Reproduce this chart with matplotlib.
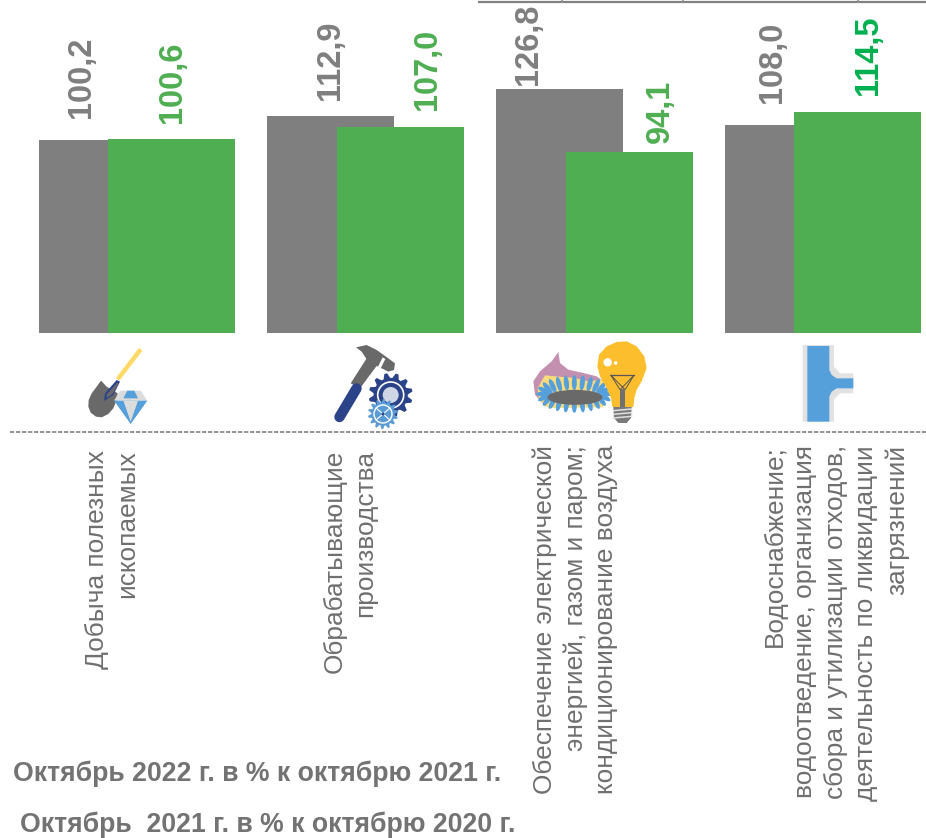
import numpy as np
import matplotlib
matplotlib.use('Agg')
from matplotlib import pyplot as plt
from matplotlib.patches import Polygon, Circle, Ellipse, Rectangle

plt.rcParams['font.family'] = ['Liberation Sans', 'DejaVu Sans']

W, H = 926, 838
BASE_Y = 333  # pixel row of the bars baseline

categories = ['Добыча полезных\nископаемых',
              'Обрабатывающие\nпроизводства',
              'Обеспечение электрической\nэнергией, газом и паром;\nкондиционирование воздуха',
              'Водоснабжение;\nводоотведение, организация\nсбора и утилизации отходов,\nдеятельность по ликвидации\nзагрязнений']
values_2021 = [100.2, 112.9, 126.8, 108.0]
values_2022 = [100.6, 107.0, 94.1, 114.5]
legend_2022 = 'Октябрь 2022 г. в % к октябрю 2021 г.'
legend_2021 = 'Октябрь  2021 г. в % к октябрю 2020 г.'

GRAY = '#7f7f7f'
GREEN = '#4fae52'
NAVY = '#2b4389'
BLUE = '#559fdb'
YELLOW = '#fdbe2d'

fig = plt.figure(figsize=(W / 100, H / 100), dpi=100)

# bars: one x unit is 228.7 px, first group centre at 137 px
UNIT = 228.7
ax = fig.add_axes([22.65 / W, 1 - BASE_Y / H, (W - 22.65) / W, BASE_Y / H])
ax.set_xlim(-0.5, -0.5 + (W - 22.65) / UNIT)
ax.set_ylim(0, BASE_Y / 1.926)
ax.axis('off')
x = np.arange(len(categories))
width = 127 / UNIT
shift = 69.5 / 2 / UNIT
bars_gray = ax.bar(x - shift, values_2021, width, color=GRAY, edgecolor='none')
bars_green = ax.bar(x + shift, values_2022, width, color=GREEN, edgecolor='none')


def fmt(v):
    return '{0:.1f}'.format(v).replace('.', ',')


# label offsets from the bar top centre, pixels
gray_off = [(-21, 22), (0, 16), (-31, 4), (-16, 22)]
green_off = [(1, 16), (27, 17), (31, 9), (11, 17)]
green_cols = [GREEN, GREEN, GREEN, '#00b050']
for i in range(len(categories)):
    ax.annotate(fmt(values_2021[i]), (x[i] - shift, values_2021[i]), xytext=gray_off[i],
                textcoords='offset pixels', rotation=90, ha='center', va='bottom',
                fontsize=23.5, fontweight='bold', color=GRAY, annotation_clip=False)
    ax.annotate(fmt(values_2022[i]), (x[i] + shift, values_2022[i]), xytext=green_off[i],
                textcoords='offset pixels', rotation=90, ha='center', va='bottom',
                fontsize=23.5, fontweight='bold', color=green_cols[i], annotation_clip=False)

# everything else is placed in pixels of the picture
pa = fig.add_axes([0, 0, 1, 1])
pa.set_xlim(0, W)
pa.set_ylim(H, 0)
pa.axis('off')
pa.patch.set_alpha(0)

pa.plot([478, 926], [2.5, 2.5], color='#808080', lw=1.6, solid_capstyle='butt')
for tx in [562, 683, 858]:
    pa.plot([tx, tx], [0, 2], color='#909090', lw=1.2)
pa.plot([10, 926], [432, 432], color='#808080', lw=1.2, dashes=(2.6, 1.0))

label_x = [112, 350, 575, 836]
label_top = [450, 450, 445, 445]
for lx, ly, name in zip(label_x, label_top, categories):
    pa.text(lx, ly, name, rotation=90, ha='center', va='top', multialignment='right',
            fontsize=18.9, color='#6f6f6f', linespacing=1.33)

pa.text(13, 773.5, legend_2022, ha='left', va='center', fontsize=19.2, fontweight='bold', color='#737373')
pa.text(20, 824.5, legend_2021, ha='left', va='center', fontsize=19.2, fontweight='bold', color='#737373')


def poly(ox, oy, pts, color, z=3):
    pts = [(ox + p[0] / 3, oy + p[1] / 3) for p in pts]
    pa.add_patch(Polygon(pts, closed=True, facecolor=color, edgecolor='none', zorder=z))


def gear(cx, cy, r, n, color, z):
    ang = np.linspace(0, 2 * np.pi, n * 4, endpoint=False) + 0.1
    rad = np.tile([r * 0.78, r, r, r * 0.78], n)
    pts = np.column_stack([cx + rad * np.cos(ang), cy + rad * np.sin(ang)])
    pa.add_patch(Polygon(pts, closed=True, facecolor=color, edgecolor='none', zorder=z))


# shovel and diamond
ox, oy = 70, 340
pa.plot([140.7, 117.7], [349.3, 379.3], color='#ffd966', lw=3.2, zorder=3, solid_capstyle='butt')
poly(ox, oy, [(93, 122), (110, 140), (128, 150), (143, 160), (140, 180), (130, 205), (115, 222), (95, 232), (78, 230),
              (62, 218), (55, 200), (56, 180), (65, 160), (80, 140)], '#696969')
poly(ox, oy, [(140, 120), (150, 125), (130, 165), (102, 183), (105, 160)], NAVY, 4)
poly(ox, oy, [(142, 128), (146, 130), (127, 162), (110, 174), (111, 162)], '#696969', 4)
poly(ox, oy, [(150, 152), (212, 152), (232, 182), (132, 182)], '#dcdcdc', 4)
poly(ox, oy, [(132, 182), (232, 182), (182, 252)], BLUE, 4)
poly(ox, oy, [(160, 182), (204, 182), (182, 245)], '#dcdcdc', 5)
poly(ox, oy, [(172, 152), (193, 152), (204, 175), (160, 175)], BLUE, 5)

# hammer and gears
ox, oy = 320, 340
poly(ox, oy, [(140, 55), (172, 75), (120, 145), (92, 130)], '#696969')
poly(ox, oy, [(108, 22), (140, 15), (170, 30), (205, 55), (225, 70), (222, 90), (205, 95), (185, 85), (170, 78), (140, 58), (125, 35)], '#696969')
poly(ox, oy, [(188, 52), (196, 57), (182, 85), (174, 80)], 'white', 4)
pa.plot([356.5, 339.5], [388.5, 417], color=NAVY, lw=7.5, solid_capstyle='round', zorder=4)
gear(390.7, 395, 22, 12, NAVY, 4)
pa.add_patch(Circle((390.7, 395), 13, facecolor='none', edgecolor='white', lw=1.2, zorder=5))
pa.add_patch(Circle((390.7, 395), 8, facecolor='#cfd6e6', edgecolor='none', zorder=5))
gear(383, 414, 15, 14, '#5b9bd5', 6)
pa.add_patch(Circle((383, 414), 9, facecolor='none', edgecolor='white', lw=1.0, zorder=7))
pa.plot([376, 390], [408, 420], color='white', lw=0.8, zorder=7)
pa.plot([376, 390], [420, 408], color='white', lw=0.8, zorder=7)
pa.add_patch(Circle((383, 414), 1.5, facecolor=NAVY, edgecolor='none', zorder=8))

# gas burner and bulb
ox, oy = 525, 338
poly(ox, oy, [(100, 42), (105, 75), (130, 95), (175, 105), (215, 115), (235, 130), (230, 190), (60, 205), (30, 170), (25, 130), (45, 100), (80, 70)], '#c490b0')
poly(ox, oy, [(38, 150), (60, 112), (100, 116), (150, 120), (190, 130), (235, 125), (235, 208), (70, 210), (42, 185)], '#fbdc7c', 4)
for t in np.linspace(0, 2 * np.pi, 24, endpoint=False):
    fx, fy = ox + (148 + 92 * np.cos(t)) / 3, oy + (168 + 34 * np.sin(t)) / 3
    pa.add_patch(Ellipse((fx, fy), 5, 15, angle=np.degrees(np.arctan2(np.sin(t) * 2.2, np.cos(t))) - 90,
                         facecolor=BLUE, edgecolor='none', zorder=5))
pa.add_patch(Ellipse((ox + 150 / 3, oy + 178 / 3), 55, 15, facecolor='#696969', edgecolor='none', zorder=6))
bulb = [(262, 207), (258, 180), (245, 150), (225, 115), (217, 85), (222, 50), (245, 25), (275, 12), (305, 10),
        (335, 25), (358, 55), (365, 90), (350, 130), (335, 155), (328, 180), (325, 207)]
poly(ox, oy, bulb, YELLOW, 7)
pa.add_patch(Circle((ox + 248 / 3, oy + 73 / 3), 4.2, facecolor='white', edgecolor='none', zorder=8))
pa.add_patch(Circle((ox + 272 / 3, oy + 75 / 3), 1.8, facecolor='white', edgecolor='none', zorder=8))
pa.plot([ox + 258 / 3, ox + 285 / 3, ox + 327 / 3, ox + 300 / 3, ox + 258 / 3],
        [oy + 112 / 3, oy + 155 / 3, oy + 112 / 3, oy + 155 / 3, oy + 112 / 3], color='#555555', lw=0.7, zorder=8)
pa.plot([ox + 258 / 3, ox + 327 / 3], [oy + 112 / 3, oy + 112 / 3], color='#555555', lw=0.9, zorder=8)
pa.add_patch(Rectangle((ox + 285 / 3, oy + 152 / 3), 5, 18, facecolor='#707070', edgecolor='none', zorder=8))
poly(ox, oy, [(265, 207), (320, 207), (318, 240), (305, 255), (280, 255), (267, 240)], '#7a7a7a', 8)
for sy in [218, 229, 240]:
    pa.plot([ox + 265 / 3, ox + 320 / 3], [oy + sy / 3, oy + (sy - 5) / 3], color='#e0e0e0', lw=1.1, zorder=9)

# water pipe
ox, oy = 790, 340
poly(ox, oy, [(38, 15), (132, 15), (132, 80), (150, 100), (190, 100), (190, 160), (150, 160), (132, 178), (132, 245), (38, 245)], '#e2e2e2')
poly(ox, oy, [(52, 18), (118, 18), (118, 90), (125, 105), (140, 115), (190, 115), (190, 145), (140, 145), (125, 155), (118, 170), (118, 245), (52, 245)], BLUE, 4)

fig.savefig('out.png', dpi=100)
